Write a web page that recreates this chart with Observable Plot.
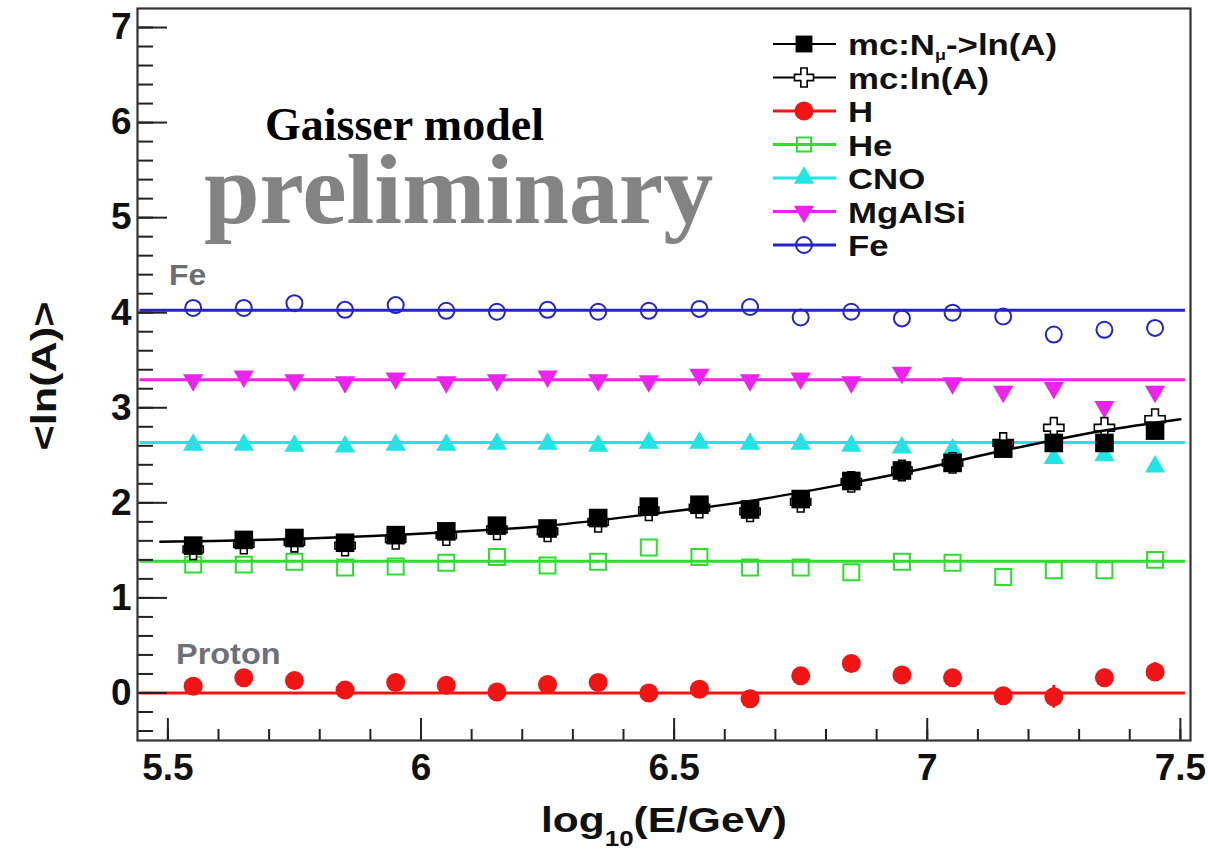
<!DOCTYPE html>
<html>
<head>
<meta charset="utf-8">
<script src="https://cdn.jsdelivr.net/npm/d3@7"></script>
<script src="https://cdn.jsdelivr.net/npm/@observablehq/plot@0.6"></script>
<style>
html, body { margin: 0; padding: 0; background: #fff; }
#chart { width: 1208px; height: 859px; }
</style>
</head>
<body>
<div id="chart"></div>
<script>
// ---------------- data ----------------
const energies = [5.55, 5.65, 5.75, 5.85, 5.95, 6.05, 6.15, 6.25, 6.35, 6.45,
                  6.55, 6.65, 6.75, 6.85, 6.95, 7.05, 7.15, 7.25, 7.35, 7.45];

const nmuLnA = [1.55, 1.61, 1.63, 1.58, 1.66, 1.70, 1.76, 1.73, 1.84, 1.96,
                1.98, 1.93, 2.04, 2.23, 2.34, 2.42, 2.57, 2.63, 2.63, 2.76];
const mcLnA  = [1.51, 1.57, 1.59, 1.55, 1.62, 1.66, 1.72, 1.70, 1.80, 1.92,
                1.95, 1.91, 2.01, 2.22, 2.34, 2.42, 2.63, 2.79, 2.79, 2.88];
const hVals  = [0.07, 0.16, 0.13, 0.03, 0.11, 0.08, 0.01, 0.09, 0.11, 0.00,
                0.04, -0.06, 0.18, 0.31, 0.19, 0.16, -0.03, -0.04, 0.16, 0.22];
const hErr   = [0.02, 0.02, 0.02, 0.02, 0.02, 0.02, 0.02, 0.02, 0.02, 0.03,
                0.03, 0.03, 0.04, 0.04, 0.05, 0.05, 0.06, 0.12, 0.09, 0.10];
const heVals = [1.35, 1.35, 1.38, 1.32, 1.33, 1.37, 1.43, 1.34, 1.38, 1.53,
                1.43, 1.32, 1.32, 1.27, 1.38, 1.37, 1.22, 1.29, 1.29, 1.40];
const cnoVals = [2.61, 2.61, 2.60, 2.59, 2.61, 2.61, 2.62, 2.62, 2.60, 2.63,
                 2.63, 2.62, 2.62, 2.60, 2.58, 2.56, 2.57, 2.47, 2.50, 2.38];
const mgVals = [3.29, 3.33, 3.29, 3.27, 3.31, 3.27, 3.29, 3.33, 3.29, 3.28,
                3.35, 3.29, 3.31, 3.27, 3.37, 3.26, 3.17, 3.21, 3.01, 3.17];
const feVals = [4.05, 4.05, 4.10, 4.03, 4.08, 4.02, 4.01, 4.03, 4.01, 4.02,
                4.04, 4.06, 3.95, 4.01, 3.94, 4.00, 3.96, 3.77, 3.82, 3.84];

// black fit curve through the mc:Nmu->ln(A) points
const fitX = [5.485, 5.75, 6.05, 6.25, 6.45, 6.65, 6.85, 7.00, 7.15, 7.25, 7.35, 7.50];
const fitY = [1.59, 1.62, 1.69, 1.76, 1.88, 2.02, 2.21, 2.37, 2.55, 2.66, 2.76, 2.88];

// pure-composition reference levels <ln A>
const refNames  = ["H", "He", "CNO", "MgAlSi", "Fe"];
const refLevels = [0.0, 1.385, 2.635, 3.295, 4.025];

// axes
const xDomain = [5.44, 7.52];
const yDomain = [-0.5, 7.2];
const xMajor = [5.5, 6, 6.5, 7, 7.5];
const xTickLabels = ["5.5", "6", "6.5", "7", "7.5"];
const xMinor = d3.range(55, 76).map(v => v / 10);
const yMajor = [0, 1, 2, 3, 4, 5, 6, 7];
const yTickLabels = ["0", "1", "2", "3", "4", "5", "6", "7"];
const yMinor = d3.range(-2, 36).map(v => v / 5);

const legendLabels = ["mc:N\u03bc->ln(A)", "mc:ln(A)", "H", "He", "CNO", "MgAlSi", "Fe"];

// ---------------- styles ----------------
const C = {
  black: "#000000",
  red: "#f01414",
  green: "#2ede2e",
  cyan: "#22e4e4",
  magenta: "#ee22ee",
  blue: "#2323c8"
};
const refColors = [C.red, C.green, C.cyan, C.magenta, C.blue];

const triangleDown = {
  draw(context, size) {
    const s3 = Math.sqrt(3);
    const y = -Math.sqrt(size / (s3 * 3));
    context.moveTo(0, -y * 2);
    context.lineTo(-s3 * y, y);
    context.lineTo(s3 * y, y);
    context.closePath();
  }
};

const W = 1208, H = 859, mL = 137, mR = 18, mT = 8, mB = 119;
const frameW = W - mL - mR, frameH = H - mT - mB;

const rows = vals => energies.map((x, i) => ({x, y: vals[i]}));
const hRows = energies.map((x, i) => ({x, y: hVals[i], e: hErr[i]}));
const fitRows = fitX.map((x, i) => ({x, y: fitY[i]}));
const refRows = refLevels.map((y, i) => ({name: refNames[i], y, color: refColors[i]}));

const marks = [];
// reference lines
refRows.forEach(r => {
  marks.push(Plot.ruleY([r], {y: "y", x1: () => 5.445, x2: () => 7.51, stroke: r.color, strokeWidth: 3}));
});
// ticks (inside the frame, left & bottom)
marks.push(Plot.tickX(xMinor, {x: d => d, insetTop: frameH - 11, stroke: "#222", strokeWidth: 2}));
marks.push(Plot.tickX(xMajor, {x: d => d, insetTop: frameH - 22, stroke: "#222", strokeWidth: 2}));
marks.push(Plot.tickY(yMinor, {y: d => d, insetRight: frameW - 16, stroke: "#222", strokeWidth: 2}));
marks.push(Plot.tickY(yMajor, {y: d => d, insetRight: frameW - 30, stroke: "#222", strokeWidth: 2}));

// data points
marks.push(Plot.ruleX(hRows, {x: "x", y1: d => d.y - d.e, y2: d => d.y + d.e, stroke: C.red, strokeWidth: 3}));
marks.push(Plot.dot(rows(feVals), {x: "x", y: "y", r: 8, stroke: C.blue, strokeWidth: 2, fill: "none"}));
marks.push(Plot.dot(rows(mgVals), {x: "x", y: "y", r: 7.5, symbol: triangleDown, fill: C.magenta, stroke: "none"}));
marks.push(Plot.dot(rows(cnoVals), {x: "x", y: "y", r: 7.5, symbol: "triangle", fill: C.cyan, stroke: "none"}));
marks.push(Plot.dot(rows(heVals), {x: "x", y: "y", r: 9, symbol: "square", fill: "none", stroke: C.green, strokeWidth: 2}));
marks.push(Plot.dot(hRows, {x: "x", y: "y", r: 9.5, fill: C.red, stroke: "none"}));
marks.push(Plot.dot(rows(mcLnA), {x: "x", y: "y", r: 8.5, symbol: "cross", fill: "white", stroke: "#000", strokeWidth: 1.6}));
marks.push(Plot.dot(rows(nmuLnA), {x: "x", y: "y", r: 10.5, symbol: "square", fill: "#000", stroke: "none"}));
marks.push(Plot.line(fitRows, {x: "x", y: "y", curve: "monotone-x", stroke: "#000", strokeWidth: 2.5}));

// axes & frame
marks.push(Plot.axisX({ticks: xMajor, tickSize: 0, tickPadding: 13, tickFormat: (d, i) => xTickLabels[i], label: null, fontSize: 37, fontWeight: "bold"}));
marks.push(Plot.axisY({ticks: yMajor, tickSize: 0, tickPadding: 6, tickFormat: (d, i) => yTickLabels[i], label: null, fontSize: 37, fontWeight: "bold"}));
marks.push(Plot.frame({stroke: "#333", strokeWidth: 2.2}));

const plot = Plot.plot({
  width: W, height: H,
  marginLeft: mL, marginRight: mR, marginTop: mT, marginBottom: mB,
  x: {domain: xDomain},
  y: {domain: yDomain},
  style: {fontFamily: "'Liberation Sans', Arial, Helvetica, sans-serif", fontSize: "37px", fontWeight: "bold", background: "white", color: "#111", overflow: "visible"},
  marks
});
document.getElementById("chart").appendChild(plot);

// ---------------- annotations, axis titles & legend ----------------
const svg = d3.select(plot);
const sans = "'Liberation Sans', Arial, Helvetica, sans-serif";
const serif = "'Liberation Serif', 'Times New Roman', serif";

function addText(parent, anchor, family, size, fill, str) {
  return parent.append("text").attr("text-anchor", anchor).attr("font-family", family)
    .attr("font-weight", "bold").attr("font-size", size).attr("fill", fill).text(str);
}

// y title
const yt = svg.append("g").attr("transform", "translate(56,376) rotate(-90) scale(1.2,1)");
addText(yt, "middle", sans, 36, "#111", "<ln(A)>");

// x title with subscript
const xt = svg.append("g").attr("transform", "translate(664,832) scale(1.18,1)");
const xtt = addText(xt, "middle", sans, 36, "#111", null);
xtt.append("tspan").text("log");
xtt.append("tspan").attr("font-size", 22).attr("dy", 14).text("10");
xtt.append("tspan").attr("dy", -14).text("(E/GeV)");

// watermark texts
addText(svg.append("g").attr("transform", "translate(265,140)"), "start", serif, 46, "#000", "Gaisser model");
addText(svg.append("g").attr("transform", "translate(204,223)"), "start", serif, 100, "#838383", "preliminary");
addText(svg.append("g").attr("transform", "translate(169,285) scale(1.1,1)"), "start", sans, 29, "#6e6e6e", "Fe");
addText(svg.append("g").attr("transform", "translate(176,664) scale(1.12,1)"), "start", sans, 29, "#6c7079", "Proton");

// legend
const legendSpec = [
  {sym: d3.symbolSquare, r: 9.5, fill: "#000", stroke: "none", sw: 0, line: "#000"},
  {sym: d3.symbolCross, r: 8, fill: "white", stroke: "#000", sw: 1.6, line: "#000"},
  {sym: d3.symbolCircle, r: 9.5, fill: C.red, stroke: "none", sw: 0, line: C.red},
  {sym: d3.symbolSquare, r: 8, fill: "none", stroke: C.green, sw: 2, line: C.green},
  {sym: d3.symbolTriangle, r: 7.5, fill: C.cyan, stroke: "none", sw: 0, line: C.cyan},
  {sym: triangleDown, r: 7.5, fill: C.magenta, stroke: "none", sw: 0, line: C.magenta},
  {sym: d3.symbolCircle, r: 8, fill: "none", stroke: C.blue, sw: 2, line: C.blue}
];
const lg = svg.append("g");
legendLabels.forEach((label, i) => {
  const s = legendSpec[i];
  const cy = 44 + i * 33.5;
  lg.append("line").attr("x1", 773).attr("x2", 836).attr("y1", cy).attr("y2", cy)
    .attr("stroke", s.line).attr("stroke-width", i < 2 ? 2 : 3);
  lg.append("path").attr("d", d3.symbol().type(s.sym).size(Math.PI * s.r * s.r)())
    .attr("transform", `translate(804,${cy})`)
    .attr("fill", s.fill).attr("stroke", s.stroke).attr("stroke-width", s.sw);
  const tg = lg.append("g").attr("transform", `translate(848,${cy + 11}) scale(1.2,1)`);
  const t = addText(tg, "start", sans, 29, "#111", null);
  if (i === 0) {
    t.append("tspan").text("mc:N");
    t.append("tspan").attr("font-size", 15).attr("dy", 5).text("\u03bc");
    t.append("tspan").attr("dy", -5).text("->ln(A)");
  } else {
    t.text(label);
  }
});
</script>
</body>
</html>
